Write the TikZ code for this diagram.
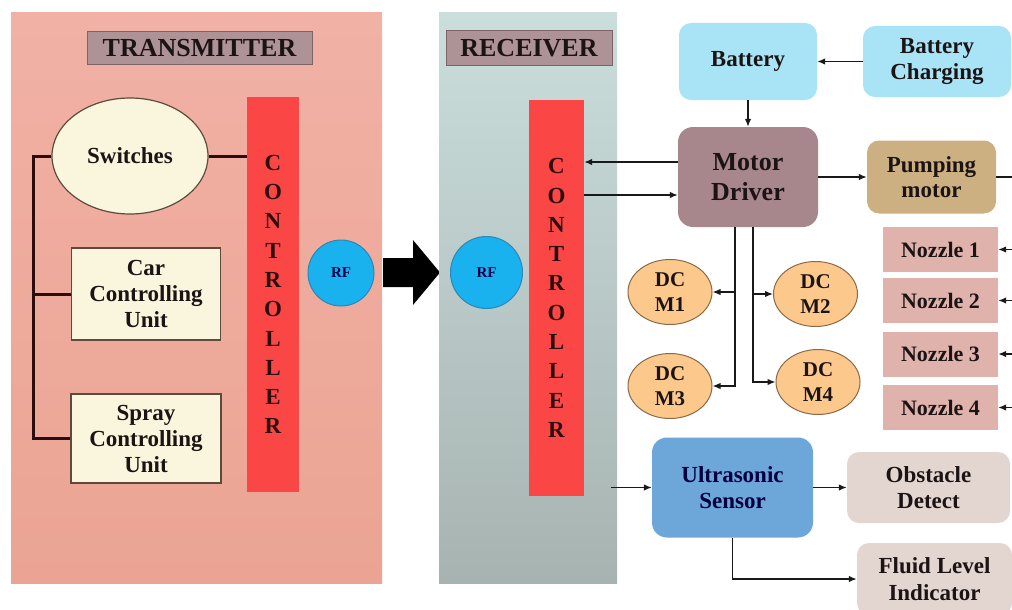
\documentclass[tikz,border=0pt]{standalone}
\usepackage{fontspec}
\setmainfont{Liberation Serif}
\usetikzlibrary{arrows.meta,shapes.geometric}
\definecolor{vericiUst}{HTML}{F1B1A5}
\definecolor{vericiAlt}{HTML}{EBA493}
\definecolor{aliciUst}{HTML}{CADEDC}
\definecolor{aliciAlt}{HTML}{A7B3B1}
\definecolor{etiketMor}{HTML}{AE9396}
\definecolor{etiketKenar}{HTML}{7E6265}
\definecolor{kontrolKirmizi}{HTML}{FB4646}
\definecolor{rfMavi}{HTML}{19B2EE}
\definecolor{rfKenar}{HTML}{2C86B8}
\definecolor{kremRenk}{HTML}{FAF6DE}
\definecolor{kremKenar}{HTML}{5C4B3C}
\definecolor{bataryaMavi}{HTML}{A8E4F6}
\definecolor{surucuMor}{HTML}{A7878B}
\definecolor{pompaTen}{HTML}{CDB081}
\definecolor{nozulPembe}{HTML}{DFB2AC}
\definecolor{motorTuruncu}{HTML}{FCC88C}
\definecolor{motorKenar}{HTML}{8A6A48}
\definecolor{sensorMavi}{HTML}{6DA7DA}
\definecolor{griKutu}{HTML}{E3D6D0}
\definecolor{koyuCizgi}{HTML}{2B0D0D}
\definecolor{yaziRenk}{HTML}{1C1414}

\begin{document}
\begin{tikzpicture}[x=1pt,y=-1pt,
  yazi/.style={font=\fontsize{23}{26}\selectfont\bfseries,text=yaziRenk,align=center,inner sep=0pt},
  kutu/.style={yazi,rounded corners=12pt},
  etiket/.style={yazi,font=\fontsize{26}{28}\selectfont\bfseries,fill=etiketMor,draw=etiketKenar,line width=1pt},
  kontrol/.style={yazi,fill=kontrolKirmizi,font=\fontsize{23}{29.3}\selectfont\bfseries,text=koyuCizgi},
  rf/.style={circle,fill=rfMavi,draw=rfKenar,line width=1pt,font=\fontsize{15}{16}\selectfont\bfseries,text=blue!30!black,inner sep=0pt},
  krem/.style={yazi,fill=kremRenk,draw=kremKenar,line width=1.2pt},
  dcmotor/.style={yazi,ellipse,fill=motorTuruncu,draw=motorKenar,line width=1pt,font=\fontsize{21}{25}\selectfont\bfseries,minimum width=84,minimum height=65},
  nozul/.style={yazi,fill=nozulPembe,font=\fontsize{22}{24}\selectfont\bfseries,minimum width=115,minimum height=45},
  ok/.style={-{Latex[length=8pt,width=6.5pt]},line width=1.4pt,draw=black!90},
  kalin/.style={line width=3pt,draw=koyuCizgi}]
\fill[white] (0,0) rectangle (1012,610);
\useasboundingbox (0,0) rectangle (1012,610);

% verici tarafi
\node[top color=vericiUst,bottom color=vericiAlt,minimum width=371,minimum height=570,inner sep=0pt] (verici) at (196.5,298) {};
\node[etiket,minimum width=225,minimum height=33] (txEtiket) at (199.5,48.5) {TRANSMITTER};
\node[kontrol,minimum width=52,minimum height=395] (txk) at (273,294.5) {C\\O\\N\\T\\R\\O\\L\\L\\E\\R};
\node[krem,ellipse,minimum width=156,minimum height=116] (swi) at (130,156) {Switches};
\node[krem,minimum width=149,minimum height=92] (car) at (146,294) {Car\\Controlling\\Unit};
\node[krem,minimum width=150,minimum height=89] (spray) at (146,438.5) {Spray\\Controlling\\Unit};
\node[rf,minimum size=66] (txrf) at (341,273) {RF};
\coordinate (bus) at (33,156);
\draw[kalin] (swi.west) -- (bus) |- (spray.west);
\draw[kalin] (bus |- car.west) -- (car.west);
\draw[kalin] (swi.east) -- (swi.east -| txk.west);

% buyuk ok
\fill[black] (383,258) -- (413,258) -- (413,240) -- (440,272.5) -- (413,305) -- (413,287) -- (383,287) -- cycle;

% alici tarafi
\node[top color=aliciUst,bottom color=aliciAlt,minimum width=178,minimum height=570,inner sep=0pt] (alici) at (528,298) {};
\node[etiket,minimum width=166,minimum height=35] (rxEtiket) at (529,48.5) {RECEIVER};
\node[kontrol,minimum width=55,minimum height=396] (rxk) at (556.5,298) {C\\O\\N\\T\\R\\O\\L\\L\\E\\R};
\node[rf,minimum size=72] (rxrf) at (486.5,272.5) {RF};

% guc ve surucu
\node[kutu,fill=bataryaMavi,minimum width=138,minimum height=77] (bat) at (748,61.5) {Battery};
\node[kutu,fill=bataryaMavi,minimum width=148,minimum height=71] (sarj) at (937,61.5) {Battery\\Charging};
\node[kutu,fill=surucuMor,rounded corners=15pt,font=\fontsize{26}{30}\selectfont\bfseries,minimum width=140,minimum height=100] (md) at (748,177) {Motor\\Driver};
\node[kutu,fill=pompaTen,font=\fontsize{23}{25}\selectfont\bfseries,minimum width=129,minimum height=73] (pump) at (931.5,177) {Pumping\\motor};
\draw[ok] (sarj.west) -- (bat.east);
\draw[ok] (bat.south) -- (md.north);
\path ([yshift=15pt]md.west) coordinate (mdUst) ([yshift=-18pt]md.west) coordinate (mdAlt);
\draw[ok] (mdUst) -- (mdUst -| rxk.east);
\draw[ok] (mdAlt -| rxk.east) -- (mdAlt);
\draw[ok] (md.east) -- (pump.west);

% nozullar
\coordinate (sag) at (1012,0);
\draw[line width=1.4pt,draw=black!90] (pump.east) -- (pump.east -| sag);
\foreach \i/\y in {1/249.5,2/300.5,3/354,4/407.5}{
  \node[nozul] (noz\i) at (940.5,\y) {Nozzle \i};
  \draw[ok] (noz\i.east -| sag) -- (noz\i.east);
}

% dc motorlar
\node[dcmotor] (dc1) at (670,292) {DC\\M1};
\node[dcmotor] (dc2) at (815.5,294) {DC\\M2};
\node[dcmotor] (dc3) at (670,386) {DC\\M3};
\node[dcmotor] (dc4) at (818,382) {DC\\M4};
\path ([xshift=-13pt]md.south) coordinate (solHat) ([xshift=5pt]md.south) coordinate (sagHat);
\draw[ok] (solHat) |- (dc3.east);
\draw[ok] (solHat |- dc1.east) -- (dc1.east);
\draw[ok] (sagHat) |- (dc4.west);
\draw[ok] (sagHat |- dc2.west) -- (dc2.west);

% sensor
\node[kutu,fill=sensorMavi,text=blue!25!black,rounded corners=15pt,minimum width=161,minimum height=100] (us) at (732.5,487.5) {Ultrasonic\\Sensor};
\node[kutu,fill=griKutu,minimum width=163,minimum height=71] (od) at (928.5,487.5) {Obstacle\\Detect};
\node[kutu,fill=griKutu,font=\fontsize{23}{27}\selectfont\bfseries,minimum width=155,minimum height=72] (fli) at (934.5,579) {Fluid Level\\Indicator};
\coordinate (usGiris) at (611,487.5);
\draw[ok] (usGiris) -- (us.west);
\draw[ok] (us.east) -- (od.west);
\draw[ok] (us.south) |- (fli.west);
\end{tikzpicture}
\end{document}
